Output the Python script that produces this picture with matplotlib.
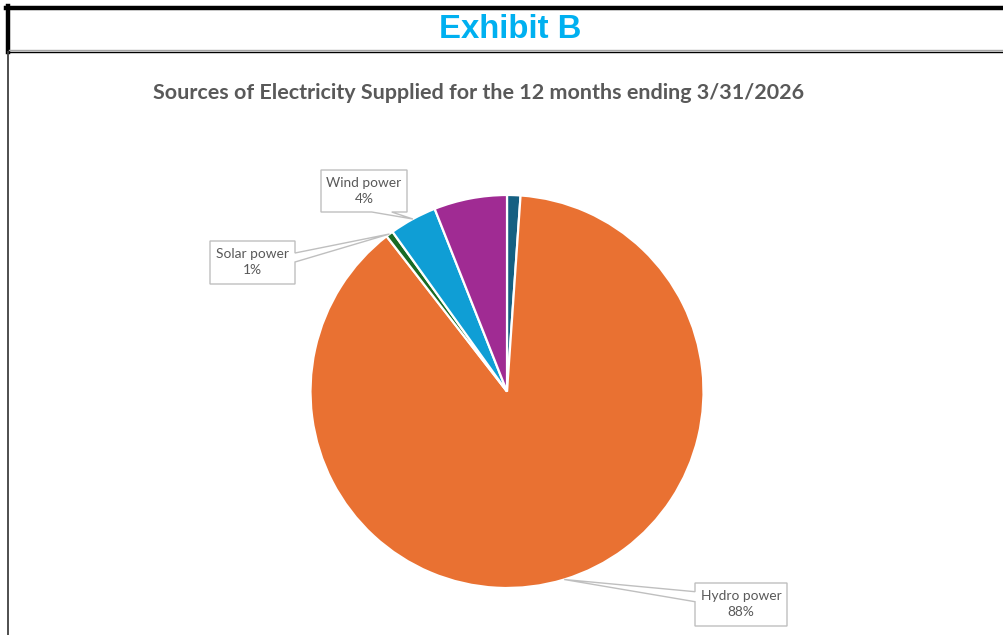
import matplotlib
matplotlib.use('Agg')
import matplotlib.pyplot as plt
from matplotlib.patches import Polygon
from matplotlib.lines import Line2D
import numpy as np

W, H = 1004, 635

sources = ['Other', 'Hydro power', 'Solar power', 'Wind power', 'Other 2']
shares = [1.1, 88.4, 0.6, 3.9, 6.0]
colors = ['#156082', '#E97132', '#196B24', '#0F9ED5', '#A02B93']
labeled = [False, True, True, True, False]

exhibit_title = 'Exhibit B'
chart_title = 'Sources of Electricity Supplied for the 12 months ending 3/31/2026'

# callout boxes, pixel coords from top-left: box, side of pointer, pointer base
callouts = {
    'Hydro power': ((695, 583, 787, 626), 'left', (591.7, 601.7)),
    'Solar power': ((210, 241, 295, 284), 'right', (253, 262)),
    'Wind power': ((321, 170, 407, 212), 'bottom', (371.7, 391.7)),
}

PIE_CX, PIE_CY, PIE_R = 507, 391.5, 196.5


def up(y):
    return H - y


def callout_poly(box, side, base, tip):
    l, t, r, b = box
    if side == 'left':
        pts = [(l, t), (r, t), (r, b), (l, b), (l, base[1]), tip, (l, base[0])]
    elif side == 'right':
        pts = [(l, t), (r, t), (r, base[0]), tip, (r, base[1]), (r, b), (l, b)]
    else:
        pts = [(l, t), (r, t), (r, b), (base[1], b), tip, (base[0], b), (l, b)]
    return [(x, up(y)) for x, y in pts]


def fit_width(txt, target, renderer):
    w = txt.get_window_extent(renderer).width
    txt.set_fontsize(txt.get_fontsize() * target / w)


fig = plt.figure(figsize=(W / 100, H / 100), dpi=100)
ax = fig.add_axes([0, 0, 1, 1])

ax.pie(shares, colors=colors, startangle=90, counterclock=False,
       center=(PIE_CX, up(PIE_CY)), radius=PIE_R,
       wedgeprops=dict(edgecolor='white', linewidth=1.6))
ax.set_aspect('auto')
ax.set_xlim(0, W)
ax.set_ylim(0, H)
ax.axis('off')

# label callouts, pointer tip at middle of each wedge
total = sum(shares)
start = 0.0
for name, val, show in zip(sources, shares, labeled):
    span = val / total * 360.0
    mid = np.radians(start + span / 2)
    start += span
    if not show:
        continue
    tip = (PIE_CX + PIE_R * np.sin(mid), PIE_CY - PIE_R * np.cos(mid))
    box, side, base = callouts[name]
    ax.add_patch(Polygon(callout_poly(box, side, base, tip), closed=True,
                         facecolor='white', edgecolor='#BFBFBF', linewidth=1.0,
                         zorder=5))
    ax.text((box[0] + box[2]) / 2, up((box[1] + box[3]) / 2),
            '%s\n%.0f%%' % (name, val / total * 100),
            ha='center', va='center', fontsize=9.9, family='Lato',
            color='#595959', linespacing=1.4, zorder=6)

# header frame
ax.add_line(Line2D([6, W], [up(8), up(8)], color='black', linewidth=3.2))
ax.add_line(Line2D([8, 8], [up(6), up(52)], color='black', linewidth=3.2))
ax.add_line(Line2D([9, W], [up(50.3), up(50.3)], color='#A6A6A6', linewidth=1.0))
ax.add_line(Line2D([9, W], [up(51.5), up(51.5)], color='black', linewidth=1.0))
ax.add_line(Line2D([8, 8], [up(52), 0], color='#404040', linewidth=1.3))

renderer = fig.canvas.get_renderer()
t1 = ax.text(510.5, up(30), exhibit_title, ha='center', va='center',
             fontsize=23, fontweight='bold', family='Liberation Sans',
             color='#00B0F0')
fit_width(t1, 143, renderer)
t2 = ax.text(478.5, up(93), chart_title, ha='center', va='center',
             fontsize=14, fontweight='bold', family='Lato', color='#595959')
fit_width(t2, 653, renderer)

fig.savefig('out.png', dpi=100)
